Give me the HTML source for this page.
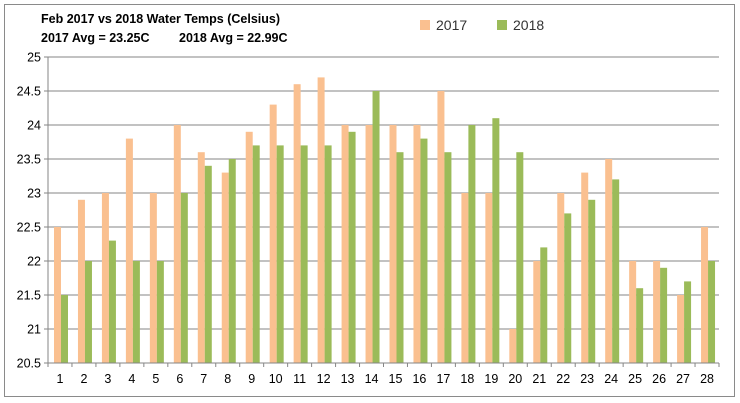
<!DOCTYPE html>
<html><head><meta charset="utf-8"><style>
body{margin:0;background:#fff;}
svg{display:block;font-family:"Liberation Sans",Calibri,sans-serif;}
</style></head><body>
<svg id="c" width="740" height="403" viewBox="0 0 740 403" xmlns="http://www.w3.org/2000/svg">
<rect x="0" y="0" width="740" height="403" fill="#fff"/>
<rect x="4.5" y="4.5" width="730" height="392" fill="#fff" stroke="#8a8a8a" stroke-width="1"/>
<text x="41" y="23" font-size="12.5" font-weight="bold" fill="#000">Feb 2017  vs 2018  Water Temps (Celsius)</text>
<text x="41" y="42" font-size="12.5" font-weight="bold" fill="#000">2017  Avg = 23.25C</text>
<text x="179" y="42" font-size="12.5" font-weight="bold" fill="#000">2018  Avg = 22.99C</text>
<rect x="420" y="20" width="10" height="10" fill="#fac090"/>
<text x="436" y="30" font-size="14" fill="#333">2017</text>
<rect x="497" y="20" width="10" height="10" fill="#9bbb59"/>
<text x="513" y="30" font-size="14" fill="#333">2018</text>
<g id="g"></g>
</svg>
<script>
var a=[22.5,22.9,23,23.8,23,24,23.6,23.3,23.9,24.3,24.6,24.7,24,24,24,24,24.5,23,23,21,22,23,23.3,23.5,22,22,21.5,22.5];
var b=[21.5,22,22.3,22,22,23,23.4,23.5,23.7,23.7,23.7,23.7,23.9,24.5,23.6,23.8,23.6,24,24.1,23.6,22.2,22.7,22.9,23.2,21.6,21.9,21.7,22];
var L=48,R=719,B=363,cw=(R-L)/28;
function y(v){return B-(v-20.5)*68;}
var s='';
for(var k=0;k<10;k++){var v=20.5+k*0.5,yy=y(v);
 if(k>0)s+='<line x1="'+L+'" x2="'+R+'" y1="'+yy+'" y2="'+yy+'" stroke="#868686"/>';
 s+='<line x1="'+(L-4)+'" x2="'+L+'" y1="'+yy+'" y2="'+yy+'" stroke="#868686"/>';
 s+='<text x="'+(L-7)+'" y="'+(yy+4.5)+'" font-size="12.5" text-anchor="end" fill="#000">'+v+'</text>';}
for(var i=0;i<28;i++){var x=L+i*cw;
 s+='<rect x="'+(x+6)+'" y="'+y(a[i])+'" width="7" height="'+(B-y(a[i]))+'" fill="#fac090"/>';
 s+='<rect x="'+(x+13)+'" y="'+y(b[i])+'" width="7" height="'+(B-y(b[i]))+'" fill="#9bbb59"/>';
 s+='<line x1="'+x+'" x2="'+x+'" y1="'+B+'" y2="'+(B+4)+'" stroke="#868686"/>';
 s+='<text x="'+(x+cw/2)+'" y="'+(B+20)+'" font-size="12.5" text-anchor="middle" fill="#000">'+(i+1)+'</text>';}
s+='<line x1="'+R+'" x2="'+R+'" y1="'+B+'" y2="'+(B+4)+'" stroke="#868686"/>';
s+='<line x1="'+L+'" x2="'+L+'" y1="'+y(25)+'" y2="'+B+'" stroke="#868686"/>';
s+='<line x1="'+L+'" x2="'+R+'" y1="'+B+'" y2="'+B+'" stroke="#868686"/>';
document.getElementById('g').innerHTML=s;
</script>
</body></html>
